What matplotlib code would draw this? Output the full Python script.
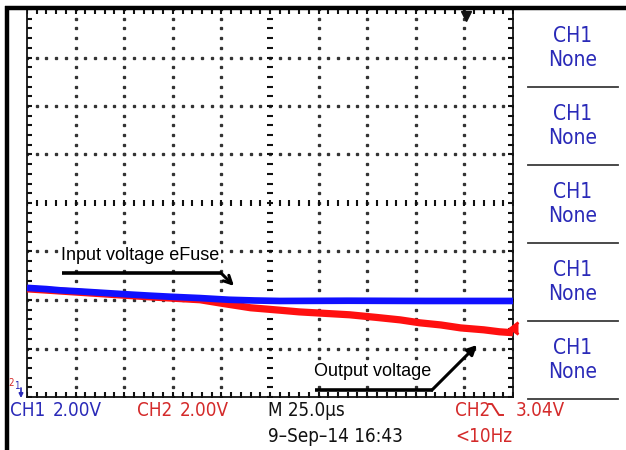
import numpy as np
import matplotlib
matplotlib.use("Agg")
import matplotlib.pyplot as plt
from matplotlib.patches import FancyArrowPatch
from matplotlib import font_manager

# ---- acquisition settings -------------------------------------------------
volts_per_div = 2.0          # both channels
time_per_div = 25.0          # microseconds
ground_div = -4.1            # ground reference, in divisions from screen centre
trigger_level = 3.04         # V, CH2 falling edge
trigger_time = 101.0         # us, trigger position marker

# ---- traces (time in us, amplitude in V) -----------------------------------
time_ch1 = [-125, -115, -108, -97, -87, -75, -62, -50, -36, -21, -8, 5, 40, 80, 125]
ch1_volts = [4.70, 4.65, 4.60, 4.55, 4.50, 4.44, 4.38, 4.33, 4.28, 4.21, 4.18, 4.16, 4.17, 4.16, 4.16]

time_ch2 = [-125, -108, -87, -62, -36, -26, -10, 5, 15, 41, 55, 67, 77, 88, 98, 110, 118, 125]
ch2_volts = [4.66, 4.57, 4.46, 4.33, 4.21, 4.08, 3.88, 3.78, 3.71, 3.59, 3.48, 3.38, 3.26, 3.17, 3.05, 2.97, 2.89, 2.85]

# ---- on-screen readouts ------------------------------------------------------
menu_title = "CH1"
menu_value = "None"
ch1_scale = "2.00V"
ch2_scale = "2.00V"
timebase = "M 25.0\u00b5s"
timestamp = "9\u2013Sep\u201314 16:43"
trigger_readout = "3.04V"
freq_readout = "<10Hz"

W, H = 626, 450

# narrow readout font: use a condensed face when one is installed
_fonts = font_manager.fontManager.ttflist
_names = {f.name for f in _fonts}
_dv_cond = [f.fname for f in _fonts if f.fname.endswith("DejaVuSansCondensed.ttf")]
if "Liberation Sans Narrow" in _names:
    NARROW = dict(family=["Liberation Sans Narrow", "DejaVu Sans"])
elif _dv_cond:
    NARROW = dict(fontproperties=font_manager.FontProperties(fname=_dv_cond[0]))
else:
    NARROW = dict(family=["DejaVu Sans"], stretch="condensed")
SANS = ["Liberation Sans", "DejaVu Sans"]
BLUE_TXT = "#2a2ab8"
RED_TXT = "#d42a2a"
BLUE_TRACE = "#1010ff"
RED_TRACE = "#ff1010"


def readout(x, y, s, color, size, **kw):
    props = dict(NARROW)
    if "fontproperties" in props:
        fp = props["fontproperties"].copy()
        fp.set_size(size)
        return ov.text(x, y, s, color=color, fontproperties=fp, **kw)
    return ov.text(x, y, s, color=color, fontsize=size, **props, **kw)


fig = plt.figure(figsize=(W / 100, H / 100), dpi=100)
fig.patch.set_facecolor("white")

# screen graticule axes
x0, x1, y0, y1 = 27, 513, 9, 397
ax = fig.add_axes([x0 / W, (H - y1) / H, (x1 - x0) / W, (y1 - y0) / H])
xmin, xmax = -5 * time_per_div, 5 * time_per_div
ymin = (-4 - ground_div) * volts_per_div
ymax = (4 - ground_div) * volts_per_div
ax.set_xlim(xmin, xmax)
ax.set_ylim(ymin, ymax)
ax.set_xticks([])
ax.set_yticks([])
for s in ax.spines.values():
    s.set_color("#111111")
    s.set_linewidth(1.3)
ax.set_facecolor("white")

# pixel-space overlay for frame, menus, readouts and annotations (on top)
ov = fig.add_axes([0, 0, 1, 1])
ov.set_xlim(0, W)
ov.set_ylim(H, 0)
ov.axis("off")
ov.set_zorder(10)
ov.patch.set_alpha(0)

xc = 0.0
yc = -ground_div * volts_per_div
minor_x = np.arange(xmin, xmax + 1e-6, time_per_div / 5)
minor_y = np.arange(ymin, ymax + 1e-6, volts_per_div / 5)
major_x = np.arange(xmin + time_per_div, xmax - 1e-6, time_per_div)
major_y = np.arange(ymin + volts_per_div, ymax - 1e-6, volts_per_div)

dot = dict(marker="s", color="#333333", markersize=1.4, linestyle="none")
for gx in major_x:
    if abs(gx - xc) > 1e-6:
        ax.plot(np.full_like(minor_y, gx), minor_y, **dot)
for gy in major_y:
    if abs(gy - yc) > 1e-6:
        ax.plot(minor_x, np.full_like(minor_x, gy), **dot)

# centre cross with minor ticks
ax.plot(minor_x, np.full_like(minor_x, yc), marker="|", markersize=4.5,
        markeredgewidth=1.5, color="#111111", linestyle="none")
ax.plot(np.full_like(minor_y, xc), minor_y, marker="_", markersize=4.5,
        markeredgewidth=1.5, color="#111111", linestyle="none")

# edge ticks (half of each marker is clipped away by the axes box)
edge = dict(color="#111111", markeredgewidth=1.5, linestyle="none")
ax.plot(np.full_like(minor_y, xmin), minor_y, marker="_", markersize=7.5, **edge)
ax.plot(np.full_like(minor_y, xmax), minor_y, marker="_", markersize=7.5, **edge)
ax.plot(minor_x, np.full_like(minor_x, ymin), marker="|", markersize=7.5, **edge)
ax.plot(minor_x, np.full_like(minor_x, ymax), marker="|", markersize=7.5, **edge)

# traces
ax.plot(time_ch2, ch2_volts, color=RED_TRACE, lw=5.2, solid_joinstyle="round",
        solid_capstyle="butt", zorder=5)
ax.plot(time_ch1, ch1_volts, color=BLUE_TRACE, lw=4.8, solid_joinstyle="round",
        solid_capstyle="butt", zorder=6)

# trigger markers
ax.plot([trigger_time], [ymax - 0.3], marker="v", color="#111111",
        markersize=7, clip_on=False, zorder=7)
ax.plot([xmax - 1.5], [trigger_level], marker=4, color=RED_TRACE,
        markersize=8, markeredgewidth=2, clip_on=False, zorder=7)

# outer frame (top and left)
ov.plot([5, W], [8, 8], color="black", lw=3.2, solid_capstyle="butt")
ov.plot([7, 7], [6, H], color="black", lw=3.2, solid_capstyle="butt")

# side menu
for i in range(5):
    readout(573, 36 + 78 * i, menu_title, BLUE_TXT, 15, ha="center", va="center")
    readout(573, 60 + 78 * i, menu_value, BLUE_TXT, 15, ha="center", va="center")
    ov.plot([528, 618], [87 + 78 * i, 87 + 78 * i], color="#3a3a3a", lw=1.3)

# ground reference markers
readout(8, 383, "2", RED_TXT, 7, ha="left", va="center")
readout(14, 386, "1", BLUE_TXT, 7, ha="left", va="center")
ov.annotate("", xy=(21, 398), xytext=(21, 388),
            arrowprops=dict(arrowstyle="-|>", color=BLUE_TXT, lw=1.2,
                            mutation_scale=6, shrinkA=0, shrinkB=0))

# bottom readouts
row1, row2 = 410, 437
fs = 13.5
readout(10, row1, "CH1", BLUE_TXT, fs, va="center")
readout(53, row1, ch1_scale, BLUE_TXT, fs, va="center")
readout(137, row1, "CH2", RED_TXT, fs, va="center")
readout(180, row1, ch2_scale, RED_TXT, fs, va="center")
readout(268, row1, timebase, "#111111", fs, va="center")
readout(455, row1, "CH2", RED_TXT, fs, va="center")
ov.plot([489, 492, 499, 503], [404, 404, 415, 415], color=RED_TXT, lw=1.4)
readout(516, row1, trigger_readout, RED_TXT, fs, va="center")
readout(268, row2, timestamp, "#111111", fs, va="center")
readout(455, row2, freq_readout, RED_TXT, fs, va="center")

# annotations with bent arrows
label_box = dict(facecolor="white", edgecolor="none", pad=1.5)
ov.text(61, 256, "Input voltage eFuse", color="black", fontsize=13, family=SANS,
        va="center", ha="left", bbox=label_box)
ov.plot([62, 222], [273, 273], color="black", lw=2.6, solid_capstyle="butt")
ov.add_patch(FancyArrowPatch((221, 273), (234, 286), arrowstyle="->",
                             mutation_scale=14, lw=2.2, color="black",
                             shrinkA=0, shrinkB=0))

ov.text(314, 372, "Output voltage", color="black", fontsize=13, family=SANS,
        va="center", ha="left", bbox=label_box)
ov.plot([315, 433], [390, 390], color="black", lw=2.6, solid_capstyle="butt")
ov.add_patch(FancyArrowPatch((432, 390), (477, 345), arrowstyle="-|>",
                             mutation_scale=14, lw=2.2, color="black",
                             shrinkA=0, shrinkB=0))

fig.savefig("out.png", dpi=100, facecolor="white")
